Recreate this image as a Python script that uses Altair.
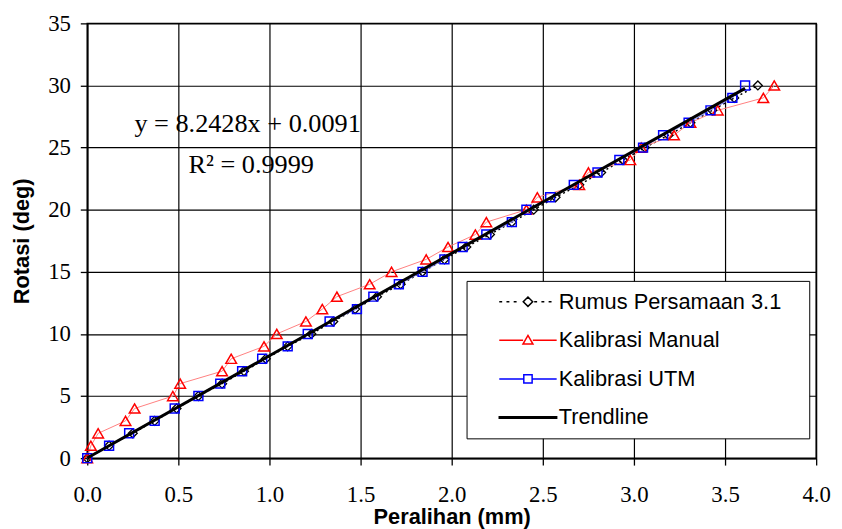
import altair as alt
import pandas as pd

# ---------------- data ----------------
rotasi = [0, 1, 2, 3, 4, 5, 6, 7, 8, 9, 10, 11, 12, 13, 14, 15, 16, 17, 18, 19, 20,
          21, 22, 23, 24, 25, 26, 27, 28, 29, 30]

rumus_x = [0.0, 0.12, 0.25, 0.37, 0.49, 0.61, 0.74, 0.86, 0.98, 1.10, 1.23, 1.35, 1.47,
           1.59, 1.72, 1.84, 1.96, 2.08, 2.21, 2.33, 2.45, 2.57, 2.70, 2.82, 2.94, 3.06,
           3.19, 3.31, 3.43, 3.55, 3.68]

manual_x = [0.0, 0.02, 0.06, 0.21, 0.26, 0.47, 0.51, 0.74, 0.79, 0.97, 1.04, 1.20, 1.29,
            1.37, 1.55, 1.67, 1.86, 1.98, 2.13, 2.19, 2.41, 2.47, 2.70, 2.75, 2.98, 3.04,
            3.22, 3.31, 3.46, 3.71, 3.77]

utm_x = [0.0, 0.12, 0.23, 0.37, 0.48, 0.61, 0.73, 0.85, 0.96, 1.10, 1.21, 1.33, 1.48,
         1.57, 1.71, 1.84, 1.96, 2.06, 2.19, 2.33, 2.41, 2.54, 2.67, 2.80, 2.92, 3.05,
         3.16, 3.30, 3.42, 3.54, 3.61]

# trendline printed on the chart: y = 8.2428x + 0.0091
trend_slope = 8.2428
trend_intercept = 0.0091
trend_x = [0.0, 3.61]

series_names = ["Rumus Persamaan 3.1", "Kalibrasi Manual", "Kalibrasi UTM", "Trendline"]

x_ticks = [0.0, 0.5, 1.0, 1.5, 2.0, 2.5, 3.0, 3.5, 4.0]
y_ticks = [0, 5, 10, 15, 20, 25, 30, 35]

annot_text = ["y = 8.2428x + 0.0091", "R\u00b2 = 0.9999"]
annot_x = [0.88, 0.90]
annot_y = [26.9, 23.6]

# ---------------- tables ----------------
rumus_df = pd.DataFrame({"x": rumus_x, "y": rotasi})
manual_df = pd.DataFrame({"x": manual_x, "y": rotasi})
utm_df = pd.DataFrame({"x": utm_x, "y": rotasi})
trend_df = pd.DataFrame({"x": trend_x,
                         "y": [trend_slope * v + trend_intercept for v in trend_x]})
annot_df = pd.DataFrame({"x": annot_x, "y": annot_y, "text": annot_text})
legend_df = pd.DataFrame({"series": series_names})

X = alt.X("x:Q", scale=alt.Scale(domain=[0, 4], nice=False),
          axis=alt.Axis(values=x_ticks, format=".1f", title="Peralihan (mm)",
                        labelPadding=19, titlePadding=0))
Y = alt.Y("y:Q", scale=alt.Scale(domain=[0, 35], nice=False),
          axis=alt.Axis(values=y_ticks, format="d", title="Rotasi (deg)",
                        labelPadding=10, titlePadding=14))

# ---------------- legend symbols (line + marker) ----------------
L = 4.14


def dots(a, b, period=1.04, length=0.42):
    s = ""
    x = a
    while x + length <= b + 1e-9:
        s += "M%.2f,0L%.2f,0" % (x, x + length)
        x += period
    return s


path_rumus = dots(-L, -0.8) + dots(0.9, L) + "M0,-0.68L0.68,0L0,0.68L-0.68,0Z"
path_manual = "M%.2f,0L-0.7,0M0.7,0L%.2f,0M0,-0.7L0.72,0.55L-0.72,0.55Z" % (-L, L)
path_utm = "M%.2f,0L-0.6,0M0.6,0L%.2f,0M-0.6,-0.6L0.6,-0.6L0.6,0.6L-0.6,0.6Z" % (-L, L)
path_trend = "M%.2f,-0.1L%.2f,-0.1L%.2f,0.1L%.2f,0.1Z" % (-L, L, L, -L)

# the (white, invisible) side title only widens the legend box on the right
leg = alt.Legend(orient="none", legendX=383, legendY=260,
                 title="iii", titleOrient="right", titleColor="white",
                 titleFont="Liberation Sans", titleFontSize=20, titlePadding=1,
                 padding=10, strokeColor="black", fillColor="white",
                 symbolSize=196, symbolOffset=41, labelOffset=20, rowPadding=17,
                 labelFont="Liberation Sans", labelFontSize=22, labelColor="black",
                 labelLimit=400, symbolStrokeWidth=1.5, symbolOpacity=1)

legend_layer = alt.Chart(legend_df).mark_point(size=196, strokeWidth=1.5, opacity=1).encode(
    shape=alt.Shape("series:N", scale=alt.Scale(domain=series_names,
                    range=[path_rumus, path_manual, path_utm, path_trend]), legend=leg),
    stroke=alt.Stroke("series:N", scale=alt.Scale(domain=series_names,
                      range=["black", "red", "blue", "black"]), legend=leg),
    fill=alt.Fill("series:N", scale=alt.Scale(domain=series_names,
                  range=["white", "white", "white", "black"]), legend=leg),
).transform_filter("false")

# ---------------- layers ----------------
rumus_line = alt.Chart(rumus_df).mark_line(color="black", strokeDash=[2, 3],
                                           strokeWidth=1.5).encode(x=X, y=Y)
manual_line = alt.Chart(manual_df).mark_line(color="#ff8080", strokeWidth=1).encode(x=X, y=Y)
utm_line = alt.Chart(utm_df).mark_line(color="#8080ff", strokeWidth=1).encode(x=X, y=Y)

rumus_pts = alt.Chart(rumus_df).mark_point(shape="diamond", size=81, color="black",
                                           strokeWidth=1.3, filled=False,
                                           opacity=1).encode(x=X, y=Y)
manual_pts = alt.Chart(manual_df).mark_point(shape="triangle-up", size=115, color="red",
                                             strokeWidth=1.5, filled=False,
                                             opacity=1).encode(x=X, y=Y)
utm_pts = alt.Chart(utm_df).mark_point(shape="square", size=81, color="blue",
                                       strokeWidth=1.5, filled=False,
                                       opacity=1).encode(x=X, y=Y)

trend_line = alt.Chart(trend_df).mark_line(color="black", strokeWidth=3).encode(x=X, y=Y)

annot = alt.Chart(annot_df).mark_text(font="Liberation Serif", fontSize=26.5, color="black",
                                      align="center", baseline="middle").encode(
    x=X, y=Y, text="text:N")

chart = alt.layer(
    rumus_line, manual_line, utm_line,
    rumus_pts, manual_pts, utm_pts,
    trend_line, annot, legend_layer,
).properties(
    width=736, height=439,
    autosize=alt.AutoSizeParams(type="none"),
    padding={"left": 80, "top": 13, "right": 18, "bottom": 69},
).configure_axis(
    labelFont="Liberation Serif", labelFontSize=23, labelColor="black",
    labelFlush=False, labelOverlap=False,
    titleFont="Liberation Sans", titleFontSize=22, titleFontWeight="bold",
    titleColor="black",
    tickColor="black", tickSize=7, tickWidth=1.3,
    domainColor="black", domainWidth=1.5,
    grid=True, gridColor="black", gridWidth=1.2, gridOpacity=1,
).configure_view(stroke="black", strokeWidth=1.5)

chart.save("out.html", embed_options={"renderer": "svg", "actions": False})
